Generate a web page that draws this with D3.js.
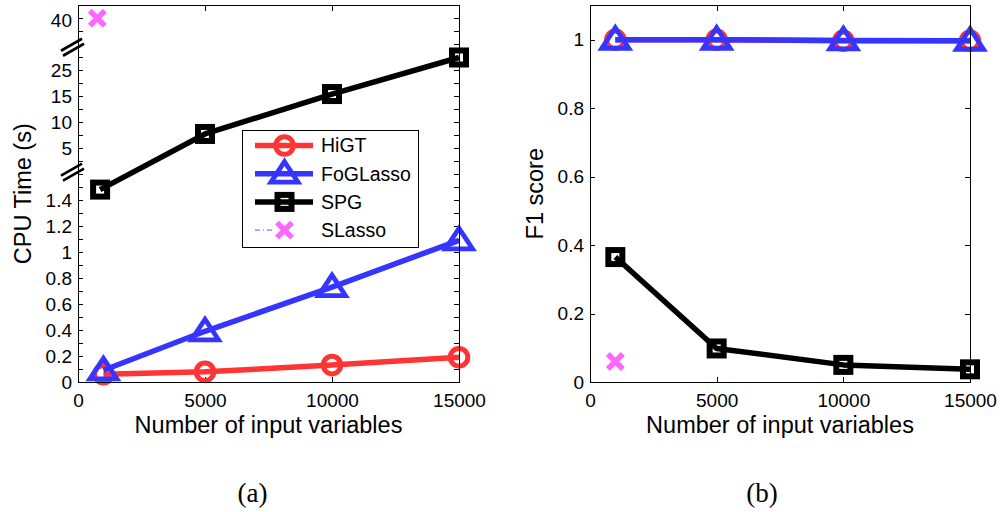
<!DOCTYPE html>
<html><head><meta charset="utf-8">
<script src="https://cdn.jsdelivr.net/npm/d3@7"></script>
<style>
body{margin:0;background:#fff}
svg{display:block}
text{fill:#000}
</style>
</head><body>
<svg id="c" width="1000" height="512"></svg>
<script>
// ---------- data ----------
const xValues = [1000, 5000, 10000, 15000];
const xTicks = [0, 5000, 10000, 15000];

// (a) CPU time (s)
const cpuHiGT = [0.06, 0.078, 0.13, 0.19];
const cpuFoGLasso = [0.09, 0.39, 0.73, 1.09];
const cpuSPGX = [870, 5000, 10000, 15000];
const cpuSPG = [1.48, 7.7, 15.75, 28.8];
const cpuSLassoX = [760];
const cpuSLasso = [40.7];
const cpuLowTicks = [0, 0.2, 0.4, 0.6, 0.8, 1, 1.2, 1.4];
const cpuHighTicks = [5, 10, 15, 25, 40];

// (b) F1 score
const f1HiGT = [1, 1, 0.997, 0.997];
const f1FoGLasso = [1, 1, 0.998, 0.997];
const f1SPG = [0.365, 0.098, 0.05, 0.037];
const f1SLassoX = [1000];
const f1SLasso = [0.06];
const f1Ticks = [0, 0.2, 0.4, 0.6, 0.8, 1];

const legendNames = ["HiGT", "FoGLasso", "SPG", "SLasso"];
const captions = ["(a)", "(b)"];

// ---------- styles ----------
const SANS = '"Liberation Sans",Arial,Helvetica,sans-serif';
const SERIF = '"Liberation Serif","DejaVu Serif",serif';
const RED = "#ff3535", BLUE = "#3535ff", BLACK = "#000", PINK = "#ff66ff";
const svg = d3.select("#c");

// ---------- markers ----------
function marker(g, type, x, y) {
  if (type === "circle") {
    g.append("circle").attr("cx", x).attr("cy", y).attr("r", 8.8)
      .attr("fill", "none").attr("stroke", RED).attr("stroke-width", 5);
  } else if (type === "triangle") {
    g.append("path").attr("d", `M${x},${y - 12}L${x + 13.5},${y + 8.5}L${x - 13.5},${y + 8.5}Z`)
      .attr("fill", "none").attr("stroke", BLUE).attr("stroke-width", 4.8).attr("stroke-linejoin", "miter");
  } else if (type === "square") {
    g.append("rect").attr("x", x - 7).attr("y", y - 7).attr("width", 14).attr("height", 14)
      .attr("fill", "none").attr("stroke", BLACK).attr("stroke-width", 6);
  } else if (type === "x") {
    const s = 7.5;
    g.append("path").attr("d", `M${x - s},${y - s}L${x + s},${y + s}M${x - s},${y + s}L${x + s},${y - s}`)
      .attr("stroke", PINK).attr("stroke-width", 5.5).attr("fill", "none");
  }
}

function series(g, xs, ys, xS, yS, color, type, withLine) {
  const pts = xs.map((v, i) => [xS(v), yS(ys[i])]);
  if (withLine) {
    g.append("path").attr("d", d3.line()(pts)).attr("fill", "none")
      .attr("stroke", color).attr("stroke-width", 5.5).attr("stroke-linejoin", "round");
  }
  pts.forEach(p => marker(g, type, p[0], p[1]));
}

function styleAxis(sel) {
  sel.select(".domain").remove();
  sel.selectAll("line").attr("stroke", "#000").attr("stroke-width", 1).attr("shape-rendering", "crispEdges");
  sel.selectAll("text").style("font-size", "19px").style("font-family", SANS).attr("fill", "#000");
}

function frame(x0, x1, y0, y1) {
  svg.append("rect").attr("x", x0).attr("y", y0).attr("width", x1 - x0).attr("height", y1 - y0)
    .attr("fill", "none").attr("stroke", "#000").attr("stroke-width", 1).attr("shape-rendering", "crispEdges");
}

function label(sel, size) {
  return sel.style("font-family", SANS).style("font-size", size + "px");
}

// ================= Panel (a) =================
const aX0 = 78, aX1 = 459, plotTop = 5.5, plotBot = 382;
const xA = d3.scaleLinear().domain([0, 15000]).range([aX0, aX1]);
const yDisp = d3.scaleLinear().domain([0, (plotBot - plotTop) / 130]).range([plotBot, plotTop]);
const dispBreaks = [0, 1.6, 1.8, 2.0, 2.2, 2.4, 2.78];
const yCpu = d3.scaleLinear().domain([0, 1.6, 5, 10, 15, 25, 40]).range(dispBreaks.map(yDisp));
const minorTicks = d3.range(0, 29).map(k => k / 10);

const gA = svg.append("g");
gA.append("g").attr("transform", `translate(0,${plotBot})`)
  .call(d3.axisBottom(xA).tickValues(xTicks).tickSizeInner(-5).tickSizeOuter(0).tickPadding(11.3).tickFormat(d3.format("d")))
  .call(styleAxis);
gA.append("g").attr("transform", `translate(0,${plotTop})`)
  .call(d3.axisTop(xA).tickValues(xTicks).tickSizeInner(-5).tickSizeOuter(0).tickFormat(""))
  .call(styleAxis);
gA.append("g").attr("transform", `translate(${aX0},0)`)
  .call(d3.axisLeft(yDisp).tickValues(minorTicks).tickSizeInner(-5).tickSizeOuter(0).tickFormat(""))
  .call(styleAxis);
gA.append("g").attr("transform", `translate(${aX1},0)`)
  .call(d3.axisRight(yDisp).tickValues(minorTicks).tickSizeInner(-5).tickSizeOuter(0).tickFormat(""))
  .call(styleAxis);
gA.append("g").attr("transform", `translate(${aX0},0)`)
  .call(d3.axisLeft(yCpu).tickValues([...cpuLowTicks, ...cpuHighTicks]).tickSize(0).tickPadding(6).tickFormat(d => String(d)))
  .call(styleAxis);
frame(aX0, aX1, plotTop, plotBot);

// axis breaks
[1.615, 2.575].forEach(v => {
  const yb = yDisp(v);
  const x = aX0;
  gA.append("path")
    .attr("d", `M${x - 17},${yb + 3.5}L${x + 4},${yb - 8.5}L${x + 6},${yb - 3.5}L${x - 15},${yb + 8.5}Z`)
    .attr("fill", "#fff");
  gA.append("path")
    .attr("d", `M${x - 17},${yb + 3.5}L${x + 4},${yb - 8.5}M${x - 15},${yb + 8.5}L${x + 6},${yb - 3.5}`)
    .attr("stroke", "#000").attr("stroke-width", 2.6).attr("fill", "none");
});

series(gA, xValues, cpuHiGT, xA, yCpu, RED, "circle", true);
series(gA, xValues, cpuFoGLasso, xA, yCpu, BLUE, "triangle", true);
series(gA, cpuSPGX, cpuSPG, xA, yCpu, BLACK, "square", true);
series(gA, cpuSLassoX, cpuSLasso, xA, yCpu, PINK, "x", false);

// legend
const leg = gA.append("g");
leg.append("rect").attr("x", 242.5).attr("y", 130.5).attr("width", 176).attr("height", 117)
  .attr("fill", "#fff").attr("stroke", "#000").attr("stroke-width", 1).attr("shape-rendering", "crispEdges");
const legColors = [RED, BLUE, BLACK, PINK];
const legTypes = ["circle", "triangle", "square", "x"];
legendNames.forEach((name, i) => {
  const y = 145.5 + i * 28.2;
  if (i < 3) {
    leg.append("line").attr("x1", 255).attr("x2", 313).attr("y1", y).attr("y2", y)
      .attr("stroke", legColors[i]).attr("stroke-width", 5.5);
  } else {
    leg.append("line").attr("x1", 255).attr("x2", 273).attr("y1", y).attr("y2", y)
      .attr("stroke", BLUE).attr("stroke-width", 1).attr("stroke-dasharray", "5,3,1,3").attr("opacity", 0.8);
  }
  marker(leg, legTypes[i], 284.5, y);
  label(leg.append("text").attr("x", 321).attr("y", y).attr("dy", "0.35em"), 19.5).text(name);
});

label(svg.append("text").attr("transform", `translate(23,${(plotTop + plotBot) / 2}) rotate(-90)`)
  .attr("text-anchor", "middle").attr("dy", "0.36em"), 23.5).text("CPU Time (s)");
label(svg.append("text").attr("x", (aX0 + aX1) / 2).attr("y", 432.7)
  .attr("text-anchor", "middle"), 23.5).text("Number of input variables");

// ================= Panel (b) =================
const bX0 = 590, bX1 = 970;
const xB = d3.scaleLinear().domain([0, 15000]).range([bX0, bX1]);
const yB = d3.scaleLinear().domain([0, 1.1]).range([plotBot, plotTop]);
const gB = svg.append("g");
gB.append("g").attr("transform", `translate(0,${plotBot})`)
  .call(d3.axisBottom(xB).tickValues(xTicks).tickSizeInner(-5).tickSizeOuter(0).tickPadding(11.3).tickFormat(d3.format("d")))
  .call(styleAxis);
gB.append("g").attr("transform", `translate(0,${plotTop})`)
  .call(d3.axisTop(xB).tickValues(xTicks).tickSizeInner(-5).tickSizeOuter(0).tickFormat(""))
  .call(styleAxis);
gB.append("g").attr("transform", `translate(${bX0},0)`)
  .call(d3.axisLeft(yB).tickValues(f1Ticks).tickSizeInner(-5).tickSizeOuter(0).tickPadding(6).tickFormat(d => String(d)))
  .call(styleAxis);
gB.append("g").attr("transform", `translate(${bX1},0)`)
  .call(d3.axisRight(yB).tickValues(f1Ticks).tickSizeInner(-5).tickSizeOuter(0).tickFormat(""))
  .call(styleAxis);
frame(bX0, bX1, plotTop, plotBot);

series(gB, xValues, f1HiGT, xB, yB, RED, "circle", true);
series(gB, xValues, f1FoGLasso, xB, yB, BLUE, "triangle", true);
series(gB, xValues, f1SPG, xB, yB, BLACK, "square", true);
series(gB, f1SLassoX, f1SLasso, xB, yB, PINK, "x", false);

label(svg.append("text").attr("transform", `translate(535,${(plotTop + plotBot) / 2}) rotate(-90)`)
  .attr("text-anchor", "middle").attr("dy", "0.36em"), 23.5).text("F1 score");
label(svg.append("text").attr("x", (bX0 + bX1) / 2).attr("y", 432.7)
  .attr("text-anchor", "middle"), 23.5).text("Number of input variables");

// captions
[(aX0 + aX1) / 2 - 16, (bX0 + bX1) / 2 - 18].forEach((cx, i) => {
  svg.append("text").attr("x", cx).attr("y", 502).attr("text-anchor", "middle")
    .style("font-family", SERIF).style("font-size", "27px")
    .text(captions[i]);
});
</script>
</body></html>
